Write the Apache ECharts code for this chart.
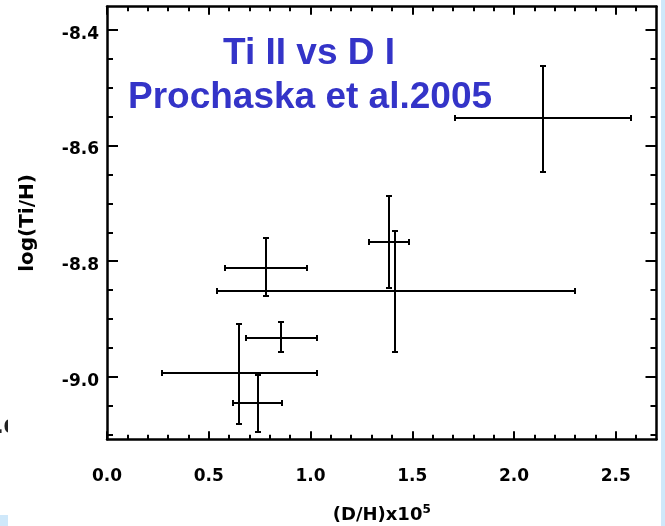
<!DOCTYPE html>
<html><head><meta charset="utf-8">
<script src="https://cdn.jsdelivr.net/npm/echarts@6/dist/echarts.min.js"></script>
<style>html,body{margin:0;padding:0;background:#fff}#c{width:665px;height:526px}</style>
</head><body><div id="c"></div>
<script>
// D/H (x10^5) centre and error-bar ends
const dhCenter = [2.142, 0.780, 1.385, 1.417, 0.855, 0.650, 0.741];
const dhLow    = [1.709, 0.580, 1.285, 0.539, 0.682, 0.272, 0.621];
const dhHigh   = [2.576, 0.983, 1.485, 2.301, 1.031, 1.031, 0.862];
// log(Ti/H) centre and error-bar ends
const tiCenter = [-8.552, -8.811, -8.767, -8.852, -8.932, -8.994, -9.045];
const tiLow    = [-8.645, -8.861, -8.847, -8.957, -8.957, -9.082, -9.096];
const tiHigh   = [-8.463, -8.760, -8.688, -8.748, -8.906, -8.909, -8.997];
// ticks
const xMajorTicks = [0, 0.5, 1.0, 1.5, 2.0, 2.5];
const xMinorTicks = [0.1,0.2,0.3,0.4,0.6,0.7,0.8,0.9,1.1,1.2,1.3,1.4,1.6,1.7,1.8,1.9,2.1,2.2,2.3,2.4,2.6];
const yMajorTicks = [-9.0, -8.8, -8.6, -8.4];
const yMinorTicks = [-9.1,-9.05,-8.95,-8.9,-8.85,-8.75,-8.7,-8.65,-8.55,-8.5,-8.45];
const titleLines = ['Ti II vs D I', 'Prochaska et al.2005'];
const xName = '(D/H)x10{s|5}';
const yName = 'log(Ti/H)';

const X_MIN = 0, X_MAX = 2.70, Y_MIN = -9.108, Y_MAX = -8.36;
const FONT = 'DejaVu Sans';
const frameSt = {color:'#000', width:2.5};
const tickSt = {color:'#000', width:2};

function xAxisCfg(pos, major) {
  return {
    type:'value', position:pos, min:X_MIN, max:X_MAX, gridIndex:0,
    splitLine:{show:false},
    axisLine:{show:major, onZero:false, lineStyle:frameSt},
    axisTick:{show:true, inside:true, length: major?8:4.5, lineStyle:tickSt,
              customValues: major?xMajorTicks:xMinorTicks},
    axisLabel: (major && pos==='bottom') ? {
      show:true, customValues:xMajorTicks, margin:29,
      formatter:v=>Number(v).toFixed(1),
      fontFamily:FONT, fontWeight:'bold', fontSize:17, color:'#000'
    } : {show:false},
    name: (major && pos==='bottom') ? xName : '',
    nameLocation:'middle', nameGap:65,
    nameTextStyle:{fontFamily:FONT, fontWeight:'bold', fontSize:18, color:'#000', lineHeight:22,
      rich:{s:{fontFamily:FONT, fontWeight:'bold', fontSize:12, lineHeight:12, verticalAlign:'top', color:'#000'}}}
  };
}
function yAxisCfg(pos, major) {
  return {
    type:'value', position:pos, min:Y_MIN, max:Y_MAX, gridIndex:0,
    splitLine:{show:false},
    axisLine:{show:major, onZero:false, lineStyle:frameSt},
    axisTick:{show:true, inside:true, length: major?11:6, lineStyle:tickSt,
              customValues: major?yMajorTicks:yMinorTicks},
    axisLabel: (major && pos==='left') ? {
      show:true, customValues:yMajorTicks, margin:8, verticalAlign:'top', lineHeight:9,
      formatter:v=>Number(v).toFixed(1),
      fontFamily:FONT, fontWeight:'bold', fontSize:17, color:'#000'
    } : {show:false},
    name: (major && pos==='left') ? yName : '',
    nameLocation:'middle', nameGap:69, nameRotate:90,
    nameTextStyle:{fontFamily:FONT, fontWeight:'bold', fontSize:20, color:'#000'}
  };
}

const data = dhCenter.map((x,i)=>[x, tiCenter[i], dhLow[i], dhHigh[i], tiLow[i], tiHigh[i]]);

const chart = echarts.init(document.getElementById('c'), null, {renderer:'canvas'});
chart.setOption({
  animation:false,
  backgroundColor:'#fff',
  grid:{left:107, right:8.5, top:6.7, bottom:86.7, containLabel:false, outerBoundsMode:'none'},
  xAxis:[xAxisCfg('bottom',true), xAxisCfg('bottom',false), xAxisCfg('top',true), xAxisCfg('top',false)],
  yAxis:[yAxisCfg('left',true), yAxisCfg('left',false), yAxisCfg('right',true), yAxisCfg('right',false)],
  series:[{
    type:'custom', xAxisIndex:0, yAxisIndex:0,
    dimensions:['x','y','xlo','xhi','ylo','yhi'],
    encode:{x:[0,2,3], y:[1,4,5]},
    data:data,
    renderItem:function(params, api){
      const R = p => [Math.round(p[0]), Math.round(p[1])];
      const l = R(api.coord([api.value(2), api.value(1)]));
      const r = R(api.coord([api.value(3), api.value(1)]));
      const b = R(api.coord([api.value(0), api.value(4)]));
      const t = R(api.coord([api.value(0), api.value(5)]));
      const cap = 3;
      const st = {stroke:'#000', lineWidth:2};
      const ln = (x1,y1,x2,y2)=>({type:'line', shape:{x1,y1,x2,y2}, style:st});
      return {type:'group', children:[
        ln(l[0]-1,l[1],r[0]+1,r[1]),
        ln(b[0],b[1]+1,t[0],t[1]-1),
        ln(l[0],l[1]-cap,l[0],l[1]+cap),
        ln(r[0],r[1]-cap,r[0],r[1]+cap),
        ln(b[0]-cap,b[1],b[0]+cap,b[1]),
        ln(t[0]-cap,t[1],t[0]+cap,t[1])
      ]};
    }
  }],
  graphic:[
    {type:'text', x:309, y:54, z:10, style:{text:titleLines[0], align:'center', verticalAlign:'middle',
      font:'bold 37px "Liberation Sans", Arial, sans-serif', fill:'#3434c8'}},
    {type:'text', x:310, y:98, z:10, style:{text:titleLines[1], align:'center', verticalAlign:'middle',
      font:'bold 37px "Liberation Sans", Arial, sans-serif', fill:'#3434c8'}},
    {type:'rect', shape:{x:661, y:0, width:4, height:526}, style:{fill:'#cfe8fa'}, z:1},
    {type:'rect', shape:{x:0, y:515, width:8, height:11}, style:{fill:'#cfe8fa'}, z:1},
    {type:'text', x:-4, y:428, z:1, style:{text:'.0', verticalAlign:'middle', font:'bold 20px "DejaVu Sans"', fill:'#222'}},
    {type:'rect', shape:{x:8, y:416, width:30, height:26}, style:{fill:'#fff'}, z:2}
  ]
});
</script></body></html>
